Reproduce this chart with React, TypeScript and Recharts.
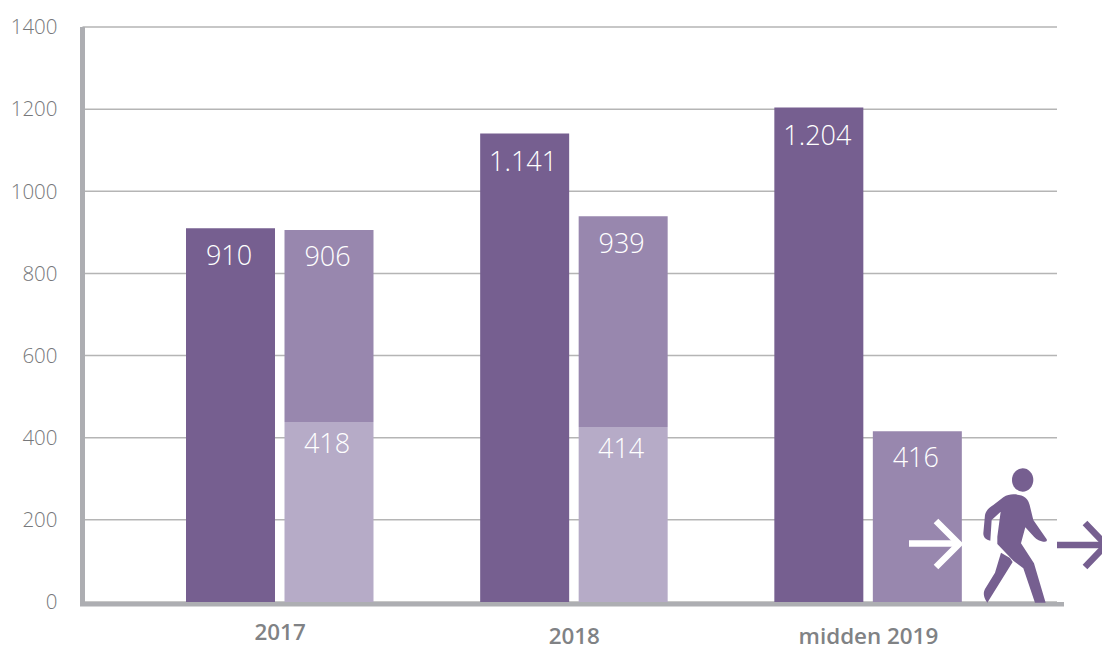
import React from "react";
import { Bar, BarChart, CartesianGrid, LabelList, XAxis, YAxis } from "recharts";

const categories = ["2017", "2018", "midden 2019"];
const darkValues = [910, 1141, 1204];
const lightValues = [438, 426, null];
const midValues = [468, 513, 416];
const darkLabels = ["910", "1.141", "1.204"];
const lightLabels = ["418", "414", null];
const midLabels = ["906", "939", "416"];
const yTicks = [0, 200, 400, 600, 800, 1000, 1200, 1400];

const DARK = "#765f90";
const MID = "#9887ae";
const LIGHT = "#b6abc7";
const AXIS = "#adaeb2";
const FONT = "'Open Sans', sans-serif";

const chartData = categories.map((category, i) => ({
  category,
  dark: darkValues[i],
  light: lightValues[i],
  mid: midValues[i],
  darkLabel: darkLabels[i],
  lightLabel: lightLabels[i],
  midLabel: midLabels[i],
}));

const labelStyle = { fill: "#fff", fontSize: 27, fontWeight: 300, fontFamily: FONT };

// 2017 sits a bit higher than the other two in the original
const CategoryTick = ({ x, y, payload }: any) => (
  <text
    x={x}
    y={y + (payload.value === "2017" ? 30 : 34)}
    textAnchor="middle"
    fill="#808285"
    fontSize={22.4}
    fontWeight={600}
    fontFamily={FONT}
  >
    {payload.value}
  </text>
);

// Axis end and walking figure are drawn on top of the chart
const Overlay = () => (
  <svg
    width={1102}
    height={646}
    style={{ position: "absolute", left: 0, top: 0, pointerEvents: "none" }}
  >
    <rect x={80} y={602} width={984} height={4.5} fill={AXIS} />
    <g fill="none" stroke="#fff" strokeWidth={6.5}>
      <path d="M909 543.5H958" />
      <path d="M936 521L959 544L936 567" />
    </g>
    <g fill="none" stroke={DARK} strokeWidth={6.5}>
      <path d="M1057 545H1102" />
      <path d="M1085 523L1106 545L1085 567" />
    </g>
    <g transform="translate(880 440) scale(0.3333)" fill={DARK}>
      <ellipse cx={428} cy={120} rx={32} ry={35} />
      <path d="M400 163C430 163 445 175 449 195L460 240L498 295Q505 304 495 305C480 305 470 298 462 290L436 262L423 310L462 370L497 488L465 488L430 385L400 362L390 352L352 312L352 290L362 215L335 240L331 302C318 300 310 292 310 280L315 225C318 212 325 205 340 195L370 172C380 165 390 163 400 163Z" />
      <path d="M363 338L390 354L398 366L322 488C312 475 308 460 315 447L345 398Z" />
    </g>
  </svg>
);

const App: React.FC = () => (
  <div style={{ position: "absolute", left: 0, top: 0, width: 1102, height: 646 }}>
    <BarChart
      width={1102}
      height={646}
      data={chartData}
      margin={{ top: 27, right: 45, left: 0, bottom: 0 }}
      barSize={89}
      barGap={9.5}
    >
      <CartesianGrid vertical={false} stroke="#b5b5b5" strokeWidth={1.5} />
      <XAxis
        dataKey="category"
        height={44}
        padding={{ left: 50.5, right: 41.5 }}
        axisLine={false}
        tickLine={false}
        interval={0}
        tick={<CategoryTick />}
      />
      <YAxis
        width={82.5}
        domain={[0, 1400]}
        ticks={yTicks}
        interval={0}
        axisLine={{ stroke: AXIS, strokeWidth: 5 }}
        tickLine={false}
        tickMargin={19}
        tick={{ fill: "#77787b", fontSize: 20.5, fontWeight: 300, fontFamily: FONT }}
      />
      <Bar dataKey="dark" stackId="left" fill={DARK} isAnimationActive={false}>
        <LabelList dataKey="darkLabel" position="insideTop" offset={18} dx={-1.5} style={labelStyle} />
      </Bar>
      <Bar dataKey="light" stackId="right" fill={LIGHT} isAnimationActive={false}>
        <LabelList dataKey="lightLabel" position="insideTop" offset={12} dx={-2} style={labelStyle} />
      </Bar>
      <Bar dataKey="mid" stackId="right" fill={MID} isAnimationActive={false}>
        <LabelList dataKey="midLabel" position="insideTop" offset={17} dx={-1.5} style={labelStyle} />
      </Bar>
    </BarChart>
    <Overlay />
  </div>
);

export default App;
